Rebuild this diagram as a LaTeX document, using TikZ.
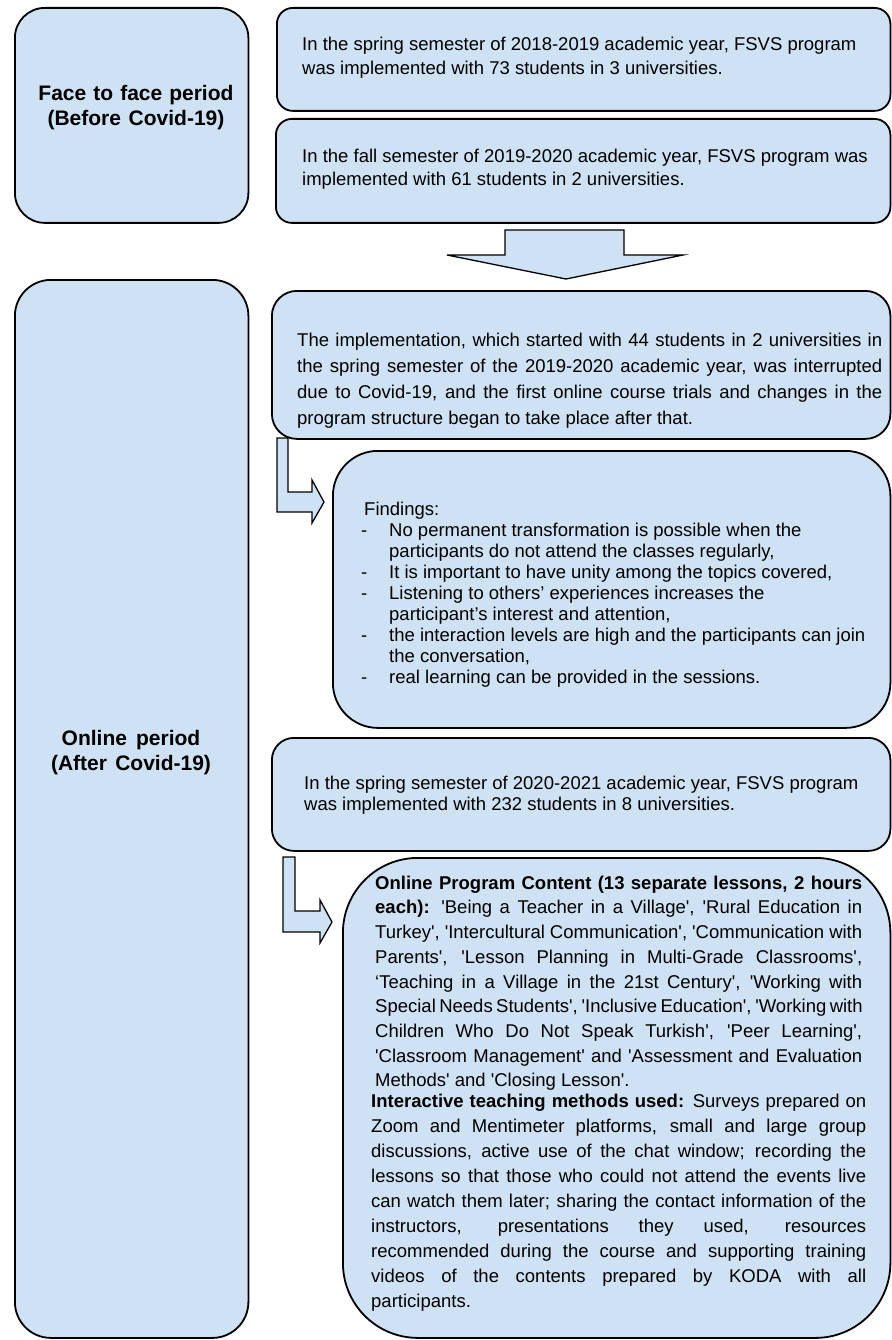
\documentclass[tikz,border=0pt]{standalone}
\usepackage{fontspec}
\setmainfont{Liberation Sans}
\definecolor{boxblue}{HTML}{CFE2F3}
\newcommand\sq{\textquotesingle}
\newcommand\fls{\rule{0pt}{15pt}}
\newcommand\natspace{\spaceskip=0pt\relax\xspaceskip=0pt\relax}
\newcommand\jline[2]{\makebox[#1][s]{\natspace #2}}
\newcommand\fitem{\makebox[28pt][l]{-}}
\newcommand\fcont{\hspace*{28pt}}
\tikzset{
  panel/.style={draw=black, fill=boxblue, line width=1.8pt, inner sep=0pt, anchor=north west},
  blockarrow/.style={draw=black, fill=boxblue, line width=1.3pt, line join=miter},
  txt/.style={inner sep=0pt, anchor=north west, align=left, execute at begin node=\natspace},
  lbl/.style={inner sep=0pt, anchor=north, align=center, text width=230pt, font=\bfseries\fontsize{21}{25}\selectfont, execute at begin node=\natspace},
}
\begin{document}
\begin{tikzpicture}[x=1pt,y=-1pt]
\useasboundingbox (0,0) rectangle (891,1340);

% left column
\node[panel, rounded corners=30pt, minimum width=233.5pt, minimum height=215pt] (face) at (14,7) {};
\node[lbl] (facelbl) at (136,84) {\rule{0pt}{16pt}Face to face period\\(Before Covid-19)};

\node[panel, rounded corners=36pt, minimum width=233.5pt, minimum height=1058pt] (online) at (14,279) {};
\node[lbl] (onlinelbl) at (131,729) {\rule{0pt}{16pt}Online period\\(After Covid-19)};

% top boxes
\node[panel, rounded corners=16pt, minimum width=613.5pt, minimum height=103pt] (spring19) at (276,7) {};
\node[txt, text width=580pt, font=\fontsize{18.5}{24}\selectfont] (spring19txt) at (302,35)
  {\fls In the spring semester of 2018-2019 academic year, FSVS program\\was implemented with 73 students in 3 universities.};

\node[panel, rounded corners=16pt, minimum width=614.5pt, minimum height=104pt] (fall19) at (275,118) {};
\node[txt, text width=580pt, font=\fontsize{18.5}{23}\selectfont] (fall19txt) at (302,147)
  {\fls In the fall semester of 2019-2020 academic year, FSVS program was\\implemented with 61 students in 2 universities.};

% down arrow
\draw[blockarrow] (505,230) -- (624,230) -- (624,255) -- (683,255) -- (566,279) -- (447,255) -- (505,255) -- cycle;

% implementation box
\node[panel, rounded corners=25pt, minimum width=618.5pt, minimum height=148pt] (impl) at (271,290) {};
\node[txt, text width=585pt, font=\fontsize{18.5}{26}\selectfont] (impltxt) at (297,331)
  {\fls\jline{585pt}{The implementation, which started with 44 students in 2 universities in}\\
   \jline{585pt}{the spring semester of the 2019-2020 academic year, was interrupted}\\
   \jline{585pt}{due to Covid-19, and the first online course trials and changes in the}\\
   program structure began to take place after that.};

% L arrow 1
\draw[blockarrow] (277,438) -- (277,512) -- (312,512) -- (312,523) -- (324,502) -- (312,480) -- (312,492) -- (288,492) -- (288,438) -- cycle;

% findings
\node[panel, rounded corners=45pt, minimum width=557.5pt, minimum height=277pt] (findings) at (332,450) {};
\node[txt, text width=525pt, font=\fontsize{18.5}{21}\selectfont] (findingstxt) at (361,500)
  {\fls\hspace*{3pt}Findings:\\
   \fitem No permanent transformation is possible when the\\
   \fcont participants do not attend the classes regularly,\\
   \fitem It is important to have unity among the topics covered,\\
   \fitem Listening to others’ experiences increases the\\
   \fcont participant’s interest and attention,\\
   \fitem the interaction levels are high and the participants can join\\
   \fcont the conversation,\\
   \fitem real learning can be provided in the sessions.};

% spring 2020-2021 box
\node[panel, rounded corners=22pt, minimum width=618.5pt, minimum height=113pt] (spring21) at (271,737) {};
\node[txt, text width=580pt, font=\fontsize{18.5}{21}\selectfont] (spring21txt) at (304,774)
  {\fls In the spring semester of 2020-2021 academic year, FSVS program\\was implemented with 232 students in 8 universities.};

% L arrow 2
\draw[blockarrow] (283,857) -- (283,932) -- (320,932) -- (320,943) -- (332,922) -- (320,900) -- (320,911) -- (295,911) -- (295,857) -- cycle;

% content box
\node[panel, rounded corners=75pt, minimum width=547.5pt, minimum height=480pt] (content) at (342,857) {};
\node[txt, text width=487pt, font=\fontsize{18.5}{24.7}\selectfont] (contenttxt) at (375,874)
  {\fls\jline{487pt}{\bfseries Online Program Content (13 separate lessons, 2 hours}\\
   \jline{487pt}{\textbf{each):} \sq{}Being a Teacher in a Village\sq{}, \sq{}Rural Education in}\\
   \jline{487pt}{Turkey\sq{}, \sq{}Intercultural Communication\sq{}, \sq{}Communication with}\\
   \jline{487pt}{Parents\sq{}, \sq{}Lesson Planning in Multi-Grade Classrooms\sq{},}\\
   \jline{487pt}{‘Teaching in a Village in the 21st Century\sq{}, \sq{}Working with}\\
   \jline{487pt}{Special Needs Students\sq{}, \sq{}Inclusive Education\sq{}, \sq{}Working with}\\
   \jline{487pt}{Children Who Do Not Speak Turkish\sq{}, \sq{}Peer Learning\sq{},}\\
   \jline{487pt}{\sq{}Classroom Management\sq{} and \sq{}Assessment and Evaluation}\\
   Methods\sq{} and \sq{}Closing Lesson\sq{}.};
\node[txt, text width=495pt, font=\fontsize{18.5}{25}\selectfont] (methodstxt) at (371,1092)
  {\fls\jline{495pt}{\textbf{Interactive teaching methods used:} Surveys prepared on}\\
   \jline{495pt}{Zoom and Mentimeter platforms, small and large group}\\
   \jline{495pt}{discussions, active use of the chat window; recording the}\\
   \jline{495pt}{lessons so that those who could not attend the events live}\\
   \jline{495pt}{can watch them later; sharing the contact information of the}\\
   \jline{495pt}{instructors, presentations they used, resources}\\
   \jline{495pt}{recommended during the course and supporting training}\\
   \jline{495pt}{videos of the contents prepared by KODA with all}\\
   participants.};
\end{tikzpicture}
\end{document}
